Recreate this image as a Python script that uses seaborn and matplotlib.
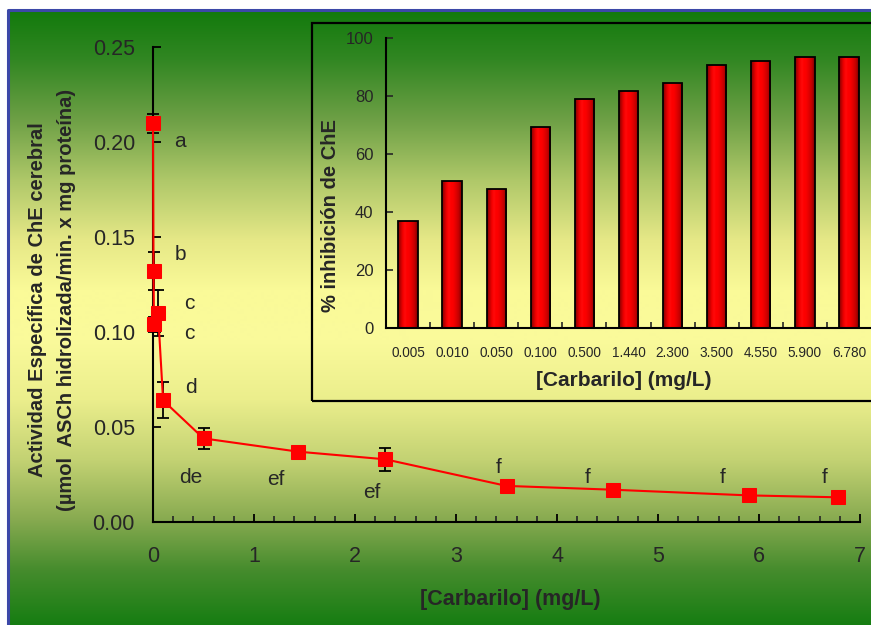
import seaborn as sns
import matplotlib.pyplot as plt
import matplotlib.patches as mpatches
import matplotlib.lines as mlines
import numpy as np

# main curve: carbaryl concentration vs brain ChE specific activity
conc = [0, 0.005, 0.01, 0.05, 0.1, 0.5, 1.44, 2.3, 3.5, 4.55, 5.9, 6.78]
actividad = [0.210, 0.132, 0.104, 0.110, 0.064, 0.044, 0.037, 0.033, 0.019, 0.017, 0.014, 0.013]
error = [0.005, 0.010, 0.004, 0.012, 0.0095, 0.0055, 0.001, 0.006, 0.001, 0.0015, 0.001, 0.0035]

# significance letters
letras = ['a', 'b', 'c', 'c', 'd', 'de', 'ef', 'ef', 'f', 'f', 'f', 'f']
letras_x = [0.27, 0.27, 0.36, 0.36, 0.38, 0.37, 1.22, 2.17, 3.42, 4.30, 5.64, 6.65]
letras_y = [0.1974, 0.1379, 0.1121, 0.0963, 0.0679, 0.0205, 0.0195, 0.0126, 0.0258, 0.0205, 0.0205, 0.0205]

# inset: % inhibition
conc_labels = ['0.005', '0.010', '0.050', '0.100', '0.500', '1.440',
               '2.300', '3.500', '4.550', '5.900', '6.780']
inhibicion = [37.0, 50.7, 48.0, 69.4, 79.1, 81.8, 84.4, 90.8, 92.2, 93.3, 93.3]

sns.set_style('ticks')
plt.rcParams['font.family'] = ['Liberation Sans', 'DejaVu Sans']

W, H = 871, 625
fig = plt.figure(figsize=(W / 100, H / 100), dpi=100)
fig.patch.set_facecolor('white')

# gradient background
stops_y = [10, 60, 120, 180, 240, 290, 340, 400, 460, 520, 570, 625]
stops_c = [(18, 122, 12), (50, 135, 35), (110, 160, 70), (175, 200, 105),
           (230, 232, 135), (250, 250, 152), (250, 250, 155), (235, 238, 140),
           (195, 210, 115), (135, 170, 80), (70, 140, 45), (22, 125, 18)]
yy = np.arange(10, 626)
grad = np.stack([np.interp(yy, stops_y, [c[i] for c in stops_c]) for i in range(3)], axis=-1) / 255
grad = grad[:, None, :]
bg = fig.add_axes([0, 0, 1, 1], zorder=-10)
bg.imshow(grad, extent=[8 / W, 1, 0, 1 - 10 / H], aspect='auto', origin='upper')
bg.set_xlim(0, 1)
bg.set_ylim(0, 1)
bg.axis('off')
fig.add_artist(mlines.Line2D([8 / W, 8 / W, 1], [0, 1 - 10 / H, 1 - 10 / H],
                             transform=fig.transFigure, color='#3c48a8', lw=2.2))

# main axes
ax = fig.add_axes([153 / W, 1 - 522 / H, (860 - 153) / W, (522 - 47) / H])
ax.set_facecolor('none')
ax.errorbar(conc, actividad, yerr=error, fmt='none', ecolor='black',
            elinewidth=1.3, capsize=4.5, capthick=1.3, zorder=2, clip_on=False)
sns.lineplot(x=conc, y=actividad, ax=ax, color='red', marker='s', markersize=9.5,
             markeredgecolor='red', linewidth=1.5, zorder=3)
for ln in ax.lines:
    ln.set_clip_on(False)
for t, x, y in zip(letras, letras_x, letras_y):
    ax.text(x, y, t, fontsize=15, ha='center', va='baseline')
ax.set_xlim(0, 7)
ax.set_ylim(0, 0.25)
ax.set_xticks(range(8))
ax.set_xticks(np.arange(0, 7.01, 0.2), minor=True)
ax.set_yticks([0, 0.05, 0.10, 0.15, 0.20, 0.25])
ax.set_yticklabels(['0.00', '0.05', '0.10', '0.15', '0.20', '0.25'])
ax.tick_params(axis='both', which='major', direction='in', length=6, width=1.3,
               labelsize=15.5, color='black')
ax.tick_params(axis='x', which='major', pad=17)
ax.tick_params(axis='y', which='major', pad=13)
ax.tick_params(axis='x', which='minor', direction='in', length=4, width=1.2)
sns.despine(ax=ax)
for s in ['left', 'bottom']:
    ax.spines[s].set_linewidth(1.5)
    ax.spines[s].set_color('black')
ax.set_xlabel('')
fig.text(510 / W, 1 - 600 / H, '[Carbarilo] (mg/L)', ha='center', va='center',
         fontsize=15.5, fontweight='bold')
fig.text(52 / W, 1 - 300 / H,
         'Actividad Específica de ChE cerebral\n(µmol  ASCh hidrolizada/min. x mg proteína)',
         rotation=90, ha='center', va='center', fontsize=14.5, fontweight='bold',
         linespacing=1.6)

# inset frame
fig.add_artist(mpatches.Rectangle((312 / W, 1 - 401 / H), 0.7, (401 - 23) / H,
                                  transform=fig.transFigure, fill=False,
                                  edgecolor='black', lw=1.6))

# inset axes
axin = fig.add_axes([386 / W, 1 - 328 / H, 1 - 386 / W, (328 - 38) / H])
axin.set_facecolor('none')
sns.barplot(x=conc_labels, y=inhibicion, ax=axin, color='red', saturation=1,
            width=0.44, edgecolor='black', linewidth=1.3)
shade = np.array([[150, 0, 0], [200, 0, 0], [245, 0, 0], [255, 10, 10], [255, 0, 0],
                  [250, 0, 0], [235, 0, 0], [215, 0, 0], [190, 0, 0], [140, 0, 0]]) / 255
for p in list(axin.patches):
    x0, y0, w, h = p.get_x(), p.get_y(), p.get_width(), p.get_height()
    p.set_facecolor('none')
    p.set_zorder(3)
    im = axin.imshow(shade[None, :, :], extent=[x0, x0 + w, y0, y0 + h],
                     aspect='auto', zorder=2, interpolation='bilinear')
    im.set_clip_path(p)
axin.set_xlim(-0.5, 10.5)
axin.set_ylim(0, 100)
axin.set_yticks(range(0, 101, 20))
axin.set_xticks(np.arange(0.5, 10.5, 1), minor=True)
axin.tick_params(axis='x', which='major', length=0, pad=13, labelsize=9.8)
axin.tick_params(axis='x', which='minor', direction='in', length=4, width=1.2)
axin.tick_params(axis='y', direction='in', length=5, width=1.2, pad=9, labelsize=12)
sns.despine(ax=axin)
for s in ['left', 'bottom']:
    axin.spines[s].set_linewidth(1.5)
    axin.spines[s].set_color('black')
axin.set_xlabel('')
axin.set_ylabel('')
fig.text(624 / W, 1 - 380 / H, '[Carbarilo] (mg/L)', ha='center', va='center',
         fontsize=15, fontweight='bold')
fig.text(330 / W, 1 - 216 / H, '% inhibición de ChE', rotation=90, ha='center',
         va='center', fontsize=14.5, fontweight='bold')

fig.savefig('out.png', dpi=100)
